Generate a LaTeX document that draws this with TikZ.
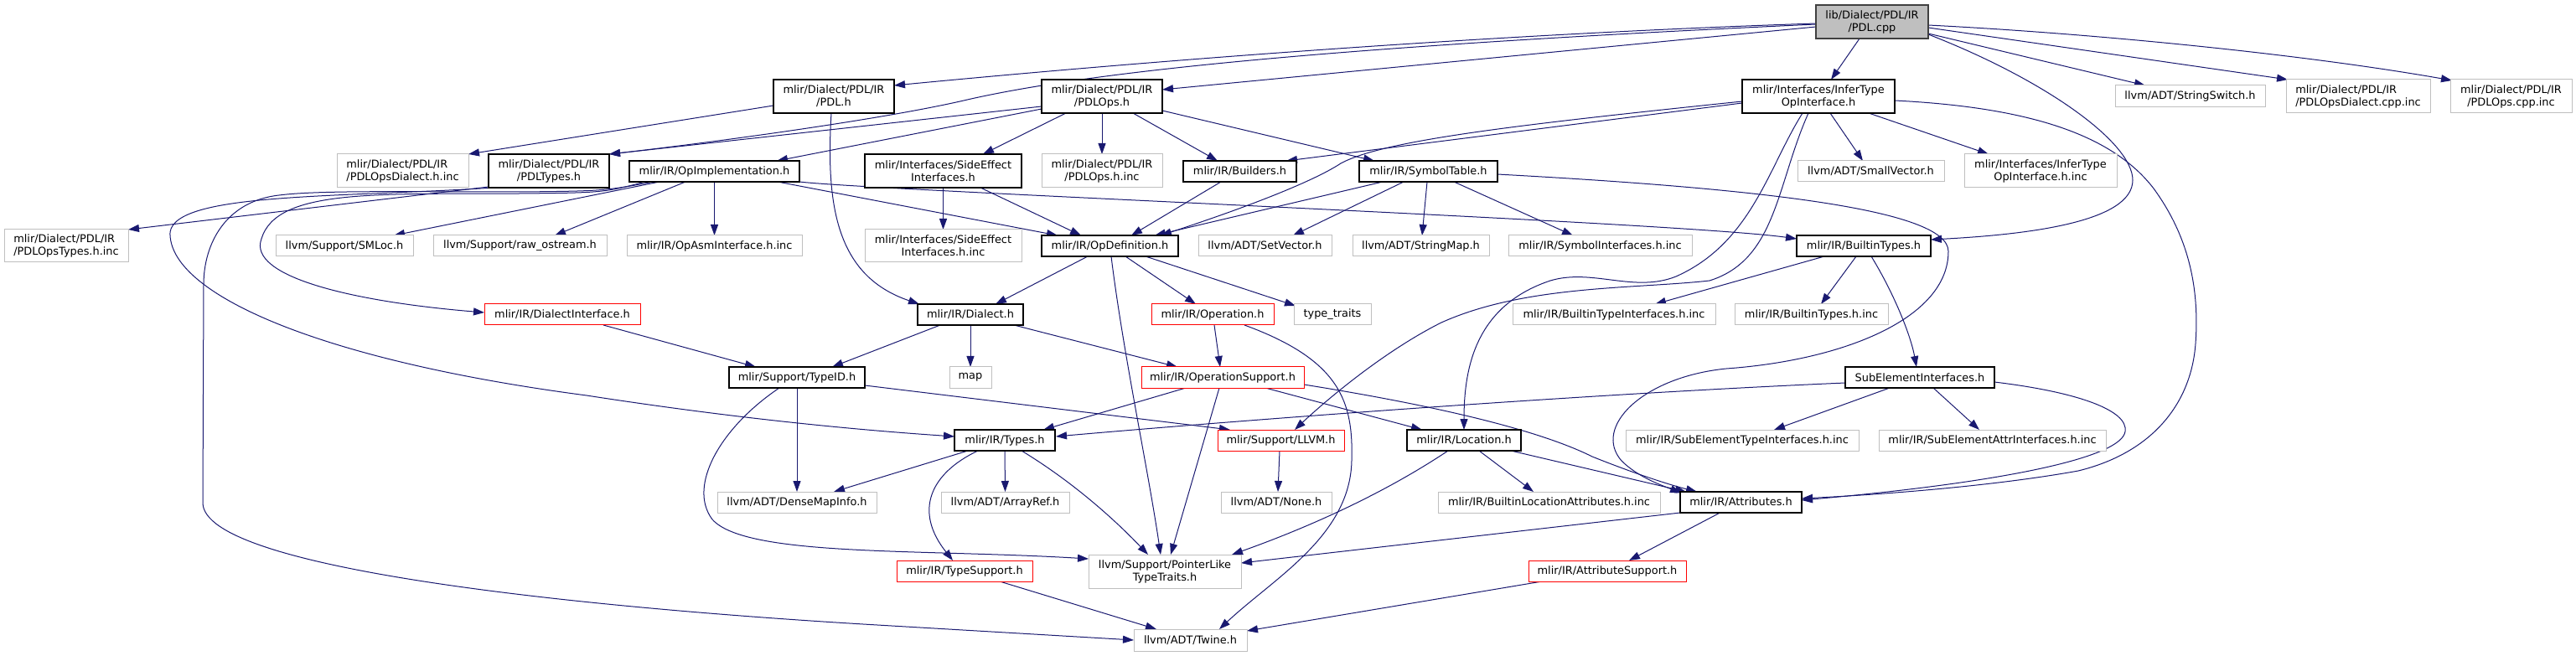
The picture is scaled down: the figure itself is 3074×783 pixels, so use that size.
\documentclass[tikz,border=0pt]{standalone}
\usepackage{fontspec}
\setmainfont{DejaVu Sans}
\usetikzlibrary{arrows.meta,calc,backgrounds}
\definecolor{edgeblue}{HTML}{191970}
\definecolor{greyS}{HTML}{BFBFBF}
\definecolor{greyD}{HTML}{404040}
\definecolor{redS}{HTML}{FF0000}
\begin{document}
\begin{tikzpicture}[x=1pt,y=-1pt,
  base/.style={draw, rectangle, inner sep=0pt, outer sep=0pt, fill=white, text=black,
    line width=1pt, align=center, font=\fontsize{12.9pt}{15pt}\selectfont},
  gbox/.style={base, draw=greyS},
  bbox/.style={base, draw=black, line width=1.1pt},
  rbox/.style={base, draw=redS},
  rootbox/.style={base, draw=greyD, fill=greyS, line width=1.1pt},
  sz/.style 2 args={minimum width=#1pt, minimum height=#2pt},
  dep/.style={draw=edgeblue, line width=1pt, -{Triangle[length=13pt,width=9pt]}}]
\useasboundingbox (0,0) rectangle (3074,783);

% ---- nodes ----
\node[rootbox, sz={134}{40}] (cpp) at (2234,26) {lib/Dialect/PDL/IR\\/PDL.cpp};
\node[bbox, sz={144}{40}] (pdlh) at (995,115) {mlir/Dialect/PDL/IR\\/PDL.h};
\node[bbox, sz={144}{40}] (pdlops) at (1315,115) {mlir/Dialect/PDL/IR\\/PDLOps.h};
\node[bbox, sz={182}{40}] (infer) at (2170,115) {mlir/Interfaces/InferType\\OpInterface.h};
\node[gbox, sz={179}{26}] (sswitch) at (2613.5,115) {llvm/ADT/StringSwitch.h};
\node[gbox, sz={172}{40}, align=left] (dialcpp) at (2814,115) {mlir/Dialect/PDL/IR\\/PDLOpsDialect.cpp.inc};
\node[gbox, sz={145}{40}] (opscpp) at (2996.5,115) {mlir/Dialect/PDL/IR\\/PDLOps.cpp.inc};
\node[gbox, sz={157}{40}, align=left] (dialhinc) at (480.5,204) {mlir/Dialect/PDL/IR\\/PDLOpsDialect.h.inc};
\node[bbox, sz={144}{40}] (pdltypes) at (655,204) {mlir/Dialect/PDL/IR\\/PDLTypes.h};
\node[bbox, sz={203}{25}] (opimpl) at (852.5,204.5) {mlir/IR/OpImplementation.h};
\node[bbox, sz={187}{40}] (side) at (1125.5,204) {mlir/Interfaces/SideEffect\\Interfaces.h};
\node[gbox, sz={144}{40}] (opshinc) at (1315,204) {mlir/Dialect/PDL/IR\\/PDLOps.h.inc};
\node[bbox, sz={135}{25}] (builders) at (1479.5,204.5) {mlir/IR/Builders.h};
\node[bbox, sz={165}{25}] (symtab) at (1704.5,204.5) {mlir/IR/SymbolTable.h};
\node[gbox, sz={175}{25}] (smallvec) at (2232.5,204.5) {llvm/ADT/SmallVector.h};
\node[gbox, sz={182}{40}] (inferinc) at (2435,204) {mlir/Interfaces/InferType\\OpInterface.h.inc};
\node[gbox, sz={148}{39}, align=left] (opstypesinc) at (79,293.5) {mlir/Dialect/PDL/IR\\/PDLOpsTypes.h.inc};
\node[gbox, sz={164}{25}] (smloc) at (411,293.5) {llvm/Support/SMLoc.h};
\node[gbox, sz={207}{25}] (rawos) at (620.5,293.5) {llvm/Support/raw\_ostream.h};
\node[gbox, sz={209}{25}] (opasm) at (852.5,293.5) {mlir/IR/OpAsmInterface.h.inc};
\node[gbox, sz={187}{39}] (sideinc) at (1125.5,293.5) {mlir/Interfaces/SideEffect\\Interfaces.h.inc};
\node[bbox, sz={163}{25}] (opdef) at (1324.5,293.5) {mlir/IR/OpDefinition.h};
\node[gbox, sz={159}{25}] (setvec) at (1509.5,293.5) {llvm/ADT/SetVector.h};
\node[gbox, sz={163}{25}] (strmap) at (1695.5,293.5) {llvm/ADT/StringMap.h};
\node[gbox, sz={219}{25}] (symif) at (1909.5,293.5) {mlir/IR/SymbolInterfaces.h.inc};
\node[bbox, sz={160}{25}] (btypes) at (2224,293.5) {mlir/IR/BuiltinTypes.h};
\node[rbox, sz={186}{25}] (dialif) at (671,375.5) {mlir/IR/DialectInterface.h};
\node[bbox, sz={126}{25}] (dialect) at (1158,375.5) {mlir/IR/Dialect.h};
\node[rbox, sz={146}{25}] (operation) at (1447,375.5) {mlir/IR/Operation.h};
\node[gbox, sz={92}{25}] (ttraits) at (1590,375.5) {type\_traits};
\node[gbox, sz={242}{25}] (btifinc) at (1926,375.5) {mlir/IR/BuiltinTypeInterfaces.h.inc};
\node[gbox, sz={183}{25}] (btinc) at (2161.5,375.5) {mlir/IR/BuiltinTypes.h.inc};
\node[bbox, sz={162}{25}] (typeid) at (951,450.5) {mlir/Support/TypeID.h};
\node[gbox, sz={50}{25}] (map) at (1158,450.5) {map};
\node[rbox, sz={194}{25}] (opsupport) at (1459,450.5) {mlir/IR/OperationSupport.h};
\node[bbox, sz={178}{25}] (subel) at (2291,450.5) {SubElementInterfaces.h};
\node[bbox, sz={120}{25}] (types) at (1199,525.5) {mlir/IR/Types.h};
\node[rbox, sz={151}{25}] (llvmh) at (1528.5,525.5) {mlir/Support/LLVM.h};
\node[bbox, sz={136}{25}] (location) at (1747,525.5) {mlir/IR/Location.h};
\node[gbox, sz={278}{25}] (subtypeinc) at (2079,525.5) {mlir/IR/SubElementTypeInterfaces.h.inc};
\node[gbox, sz={271}{25}] (subattrinc) at (2377.5,525.5) {mlir/IR/SubElementAttrInterfaces.h.inc};
\node[gbox, sz={190}{25}] (densemap) at (951,599.5) {llvm/ADT/DenseMapInfo.h};
\node[gbox, sz={153}{25}] (arrayref) at (1199.5,599.5) {llvm/ADT/ArrayRef.h};
\node[gbox, sz={132}{25}] (none) at (1523,599.5) {llvm/ADT/None.h};
\node[gbox, sz={265}{25}] (bla) at (1848.5,599.5) {mlir/IR/BuiltinLocationAttributes.h.inc};
\node[bbox, sz={145}{25}] (attrs) at (2077.5,599.5) {mlir/IR/Attributes.h};
\node[rbox, sz={162}{25}] (typesupport) at (1151,681.5) {mlir/IR/TypeSupport.h};
\node[gbox, sz={182}{40}] (ptrlike) at (1390,682) {llvm/Support/PointerLike\\TypeTraits.h};
\node[rbox, sz={188}{25}] (attrsupport) at (1918,681.5) {mlir/IR/AttributeSupport.h};
\node[gbox, sz={135}{26}] (twine) at (1420.5,764) {llvm/ADT/Twine.h};

% ---- edges ----
\begin{scope}[on background layer]
\draw[dep] ($(cpp)+(-67,2)$) .. controls (1800,40) and (1400,70) .. ($(pdlh)+(72,-13)$);
\draw[dep] ($(cpp)+(-67,6)$) -- ($(pdlops)+(72,-8)$);
\draw[dep] ($(cpp)+(-67,3)$) .. controls (1600,55) and (1300,85) .. (1150,120) .. controls (1050,143) and (850,170) .. ($(pdltypes)+(72,-20)$);
\draw[dep] ($(cpp)+(-15,20)$) -- ($(infer)+(15,-20)$);
\draw[dep] ($(cpp)+(67,14)$) -- ($(sswitch)+(-53.5,-13)$);
\draw[dep] ($(cpp)+(67,7)$) -- ($(dialcpp)+(-84,-20)$);
\draw[dep] ($(cpp)+(67,4)$) .. controls (2500,40) and (2750,65) .. ($(opscpp)+(-70.5,-19)$);
\draw[dep] ($(cpp)+(67,15)$) .. controls (2440,95) and (2545,170) .. (2545,215) .. controls (2545,265) and (2420,280) .. ($(btypes)+(80,-7.5)$);

\draw[dep] ($(pdlops)+(-72,12)$) -- ($(pdltypes)+(72,-20)$);
\draw[dep] ($(pdlops)+(-72,15)$) -- ($(opimpl)+(74.5,-12.5)$);
\draw[dep] ($(pdlops)+(-43,20)$) -- ($(side)+(47.5,-20)$);
\draw[dep] (pdlops.south) -- (opshinc.north);
\draw[dep] ($(pdlops)+(37,20)$) -- ($(builders)+(-26.5,-12.5)$);
\draw[dep] ($(pdlops)+(72,17)$) -- ($(symtab)+(-64.5,-12.5)$);

\draw[dep] ($(pdlh)+(-72,11)$) -- ($(dialhinc)+(78.5,-20)$);
\draw[dep] ($(pdlh)+(-3,20)$) .. controls (985,250) and (1000,330) .. ($(dialect)+(-61,-12.5)$);

\draw[dep] ($(pdltypes)+(-72,19)$) -- ($(opstypesinc)+(74,-19.5)$);
\draw[dep] ($(pdltypes)+(-65,20)$) .. controls (400,236) and (210,230) .. (203,277) .. controls (200,350) and (380,430) .. (700,472) .. controls (900,503) and (1050,515) .. ($(types)+(-60,-4.5)$);

\draw[dep] ($(opimpl)+(-72.5,12.5)$) .. controls (720,228) .. (620,229) .. controls (480,229) and (380,227) .. (333,233) .. controls (270,240) and (243,290) .. (243,340) -- (242,600) .. controls (242,680) and (700,725) .. (1030,745) -- ($(twine)+(-67.5,0)$);
\draw[dep] ($(opimpl)+(-82.5,12.5)$) .. controls (720,230) .. (620,231) .. controls (450,232) and (330,225) .. (312,285) .. controls (295,330) and (420,360) .. ($(dialif)+(-93,-2.5)$);
\draw[dep] ($(opimpl)+(-65.5,12.5)$) -- ($(smloc)+(59,-12.5)$);
\draw[dep] ($(opimpl)+(-34.5,12.5)$) -- ($(rawos)+(41.5,-12.5)$);
\draw[dep] (opimpl.south) -- (opasm.north);
\draw[dep] ($(opimpl)+(75.5,12.5)$) -- ($(opdef)+(-62.5,-12.5)$);
\draw[dep] ($(opimpl)+(101.5,12.5)$) .. controls (1050,228) and (2000,265) .. ($(btypes)+(-80,-8.5)$);

\draw[dep] (side.south) -- (sideinc.north);
\draw[dep] ($(side)+(44.5,20)$) -- ($(opdef)+(-34.5,-12.5)$);
\draw[dep] ($(builders)+(-22.5,12.5)$) -- ($(opdef)+(25.5,-12.5)$);

\draw[dep] ($(symtab)+(-54.5,12.5)$) -- ($(opdef)+(53.5,-12.5)$);
\draw[dep] ($(symtab)+(-29.5,12.5)$) -- ($(setvec)+(33.5,-12.5)$);
\draw[dep] ($(symtab)+(-1.5,12.5)$) -- ($(strmap)+(1.5,-12.5)$);
\draw[dep] ($(symtab)+(30.5,12.5)$) -- ($(symif)+(-32.5,-12.5)$);
\draw[dep] ($(symtab)+(82.5,3.5)$) .. controls (2100,225) and (2325,250) .. (2325,300) .. controls (2325,380) and (2200,430) .. (2060,440) .. controls (1960,450) and (1900,510) .. (1935,550) .. controls (1955,570) and (1985,580) .. ($(attrs)+(-71.5,-11)$);

\draw[dep] ($(infer)+(-91,6)$) .. controls (1800,150) and (1650,168) .. (1600,195) .. controls (1565,218) and (1480,250) .. ($(opdef)+(60.5,-12.5)$);
\draw[dep] ($(infer)+(-91,8)$) -- ($(builders)+(55.5,-12.5)$);
\draw[dep] ($(infer)+(14,20)$) -- ($(smallvec)+(-9.5,-12.5)$);
\draw[dep] ($(infer)+(60,20)$) -- ($(inferinc)+(-62,-20)$);
\draw[dep] ($(infer)+(-19,20)$) .. controls (2110,200) and (2090,290) .. (2000,330) .. controls (1950,350) and (1900,320) .. (1850,335) .. controls (1760,365) and (1747,440) .. ($(location)+(0,-12.5)$);
\draw[dep] ($(infer)+(-12,20)$) .. controls (2120,220) and (2120,310) .. (2040,335) .. controls (1950,345) and (1820,340) .. (1720,385) .. controls (1650,420) and (1580,480) .. ($(llvmh)+(16.5,-12.5)$);
\draw[dep] ($(infer)+(91,5)$) .. controls (2420,128) and (2520,160) .. (2570,225) .. controls (2610,280) and (2625,340) .. (2620,410) .. controls (2615,480) and (2570,540) .. (2480,562) .. controls (2380,580) and (2250,590) .. ($(attrs)+(72.5,-4.5)$);

\draw[dep] ($(btypes)+(-47,12.5)$) -- ($(btifinc)+(49,-12.5)$);
\draw[dep] ($(btypes)+(-9,12.5)$) -- ($(btinc)+(11.5,-12.5)$);
\draw[dep] ($(btypes)+(9,12.5)$) .. controls (2260,350) and (2280,400) .. ($(subel)+(-4,-12.5)$);

\draw[dep] ($(opdef)+(-26.5,12.5)$) -- ($(dialect)+(30,-12.5)$);
\draw[dep] ($(opdef)+(18.5,12.5)$) -- ($(operation)+(-20,-12.5)$);
\draw[dep] ($(opdef)+(42.5,12.5)$) -- ($(ttraits)+(-44,-10.5)$);
\draw[dep] ($(opdef)+(1.5,12.5)$) .. controls (1340,420) and (1370,560) .. ($(ptrlike)+(-5,-20)$);

\draw[dep] ($(dialect)+(-36,12.5)$) -- ($(typeid)+(42,-12.5)$);
\draw[dep] (dialect.south) -- (map.north);
\draw[dep] ($(dialect)+(52,12.5)$) -- ($(opsupport)+(-54,-12.5)$);
\draw[dep] ($(dialif)+(49,12.5)$) -- ($(typeid)+(-49,-12.5)$);

\draw[dep] ($(operation)+(2,12.5)$) -- ($(opsupport)+(-3,-12.5)$);
\draw[dep] ($(operation)+(38,12.5)$) .. controls (1600,430) and (1615,480) .. (1613,550) .. controls (1611,640) and (1520,690) .. ($(twine)+(34.5,-13)$);

\draw[dep] ($(opsupport)+(-44,12.5)$) -- ($(types)+(46,-12.5)$);
\draw[dep] ($(opsupport)+(-4,12.5)$) -- ($(ptrlike)+(7,-20)$);
\draw[dep] ($(opsupport)+(51,12.5)$) -- ($(location)+(-50,-12.5)$);
\draw[dep] ($(opsupport)+(97,8.5)$) .. controls (1750,490) and (1850,520) .. (1900,545) .. controls (1950,565) and (1990,578) .. ($(attrs)+(-52.5,-12.5)$);

\draw[dep] (typeid.south) -- (densemap.north);
\draw[dep] ($(typeid)+(-21,12.5)$) .. controls (860,510) and (820,580) .. (850,620) .. controls (890,665) and (1100,655) .. ($(ptrlike)+(-91,-15)$);
\draw[dep] ($(typeid)+(81,9.5)$) -- ($(llvmh)+(-60.5,-12.5)$);

\draw[dep] ($(types)+(-44,12.5)$) -- ($(densemap)+(44,-12.5)$);
\draw[dep] (types.south) -- (arrayref.north);
\draw[dep] ($(types)+(-32,12.5)$) .. controls (1110,565) and (1090,610) .. ($(typesupport)+(-14,-12.5)$);
\draw[dep] ($(types)+(20,12.5)$) .. controls (1280,575) and (1330,620) .. ($(ptrlike)+(-20,-20)$);

\draw[dep] ($(subel)+(-89,6.5)$) .. controls (1900,470) and (1500,500) .. ($(types)+(61,-4.5)$);
\draw[dep] ($(subel)+(-36,12.5)$) -- ($(subtypeinc)+(38,-12.5)$);
\draw[dep] ($(subel)+(16,12.5)$) -- ($(subattrinc)+(-15.5,-12.5)$);
\draw[dep] ($(subel)+(89,5.5)$) .. controls (2480,468) and (2540,490) .. (2536,515) .. controls (2532,545) and (2400,575) .. ($(attrs)+(72.5,-2.5)$);

\draw[dep] ($(location)+(-19,12.5)$) .. controls (1650,590) and (1560,630) .. ($(ptrlike)+(80,-20)$);
\draw[dep] ($(location)+(18,12.5)$) -- ($(bla)+(-18.5,-12.5)$);
\draw[dep] ($(location)+(56,12.5)$) -- ($(attrs)+(-65.5,-12.5)$);

\draw[dep] ($(attrs)+(-72.5,12.5)$) -- ($(ptrlike)+(91,-10)$);
\draw[dep] ($(attrs)+(-25,12.5)$) -- ($(attrsupport)+(26,-12.5)$);
\draw[dep] ($(attrsupport)+(-78,12.5)$) -- ($(twine)+(67.5,-11)$);
\draw[dep] ($(typesupport)+(42,12.5)$) -- ($(twine)+(-40.5,-13)$);
\draw[dep] ($(llvmh)+(-1.5,12.5)$) -- ($(none)+(2,-12.5)$);
\end{scope}
\end{tikzpicture}
\end{document}
